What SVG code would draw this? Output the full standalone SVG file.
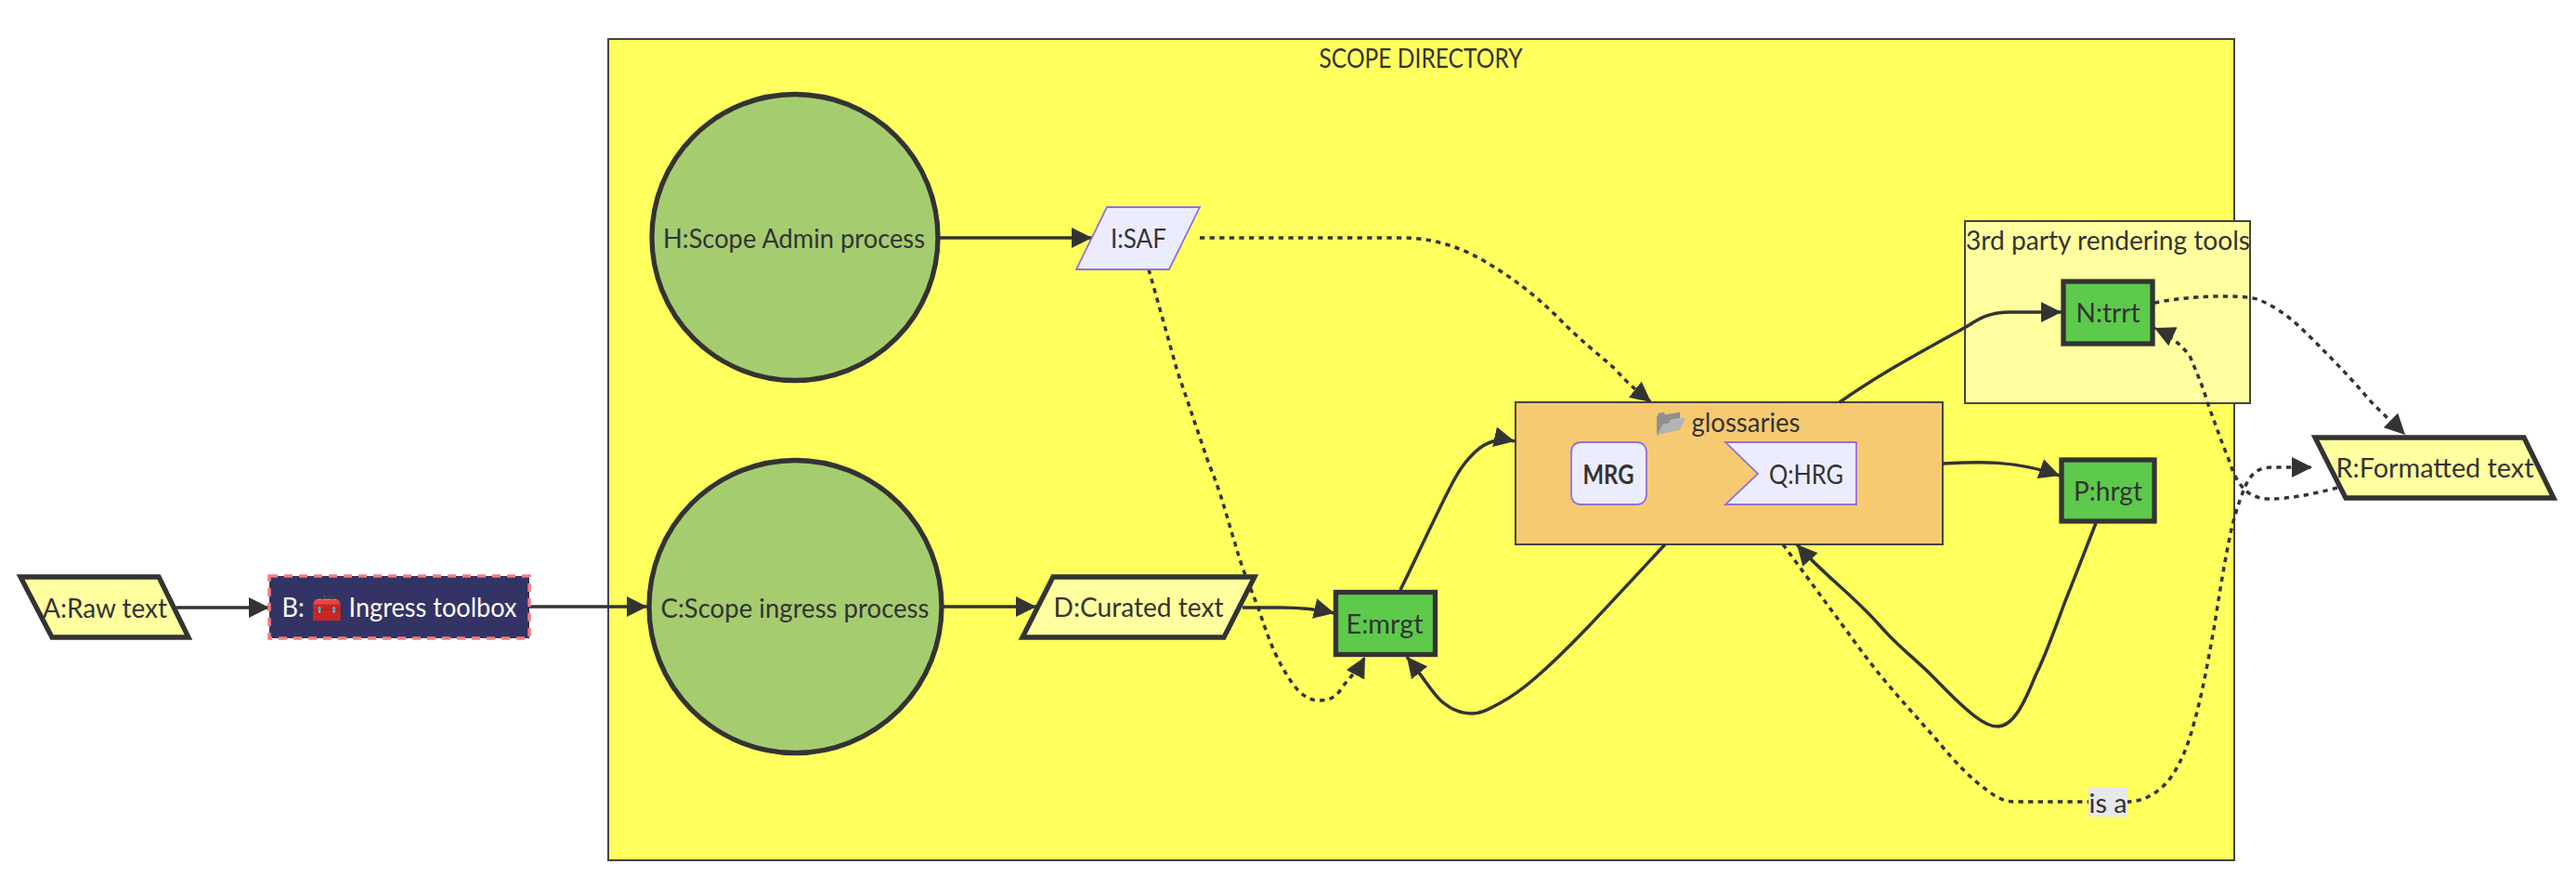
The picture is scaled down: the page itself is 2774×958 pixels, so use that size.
<svg xmlns="http://www.w3.org/2000/svg" width="2774" height="958" viewBox="0 0 2774 958">
<style>
text{font-family:"Lato","Liberation Sans",sans-serif;font-size:28px;fill:#333;text-anchor:middle;dominant-baseline:central}
.e{fill:none;stroke:#333;stroke-width:3.5}
.d{stroke-dasharray:5.3 5.3}
.big{fill:#ffff9f;stroke:#333;stroke-width:5.3}
.gr{fill:#5dca4c;stroke:#333;stroke-width:5.3}
.pl{fill:#ececff;stroke:#9370db;stroke-width:1.8}
.cl{stroke:#444;stroke-width:2}
.c{fill:#a6cc70;stroke:#333;stroke-width:5.3}
</style>
<defs><marker id="a" markerUnits="userSpaceOnUse" viewBox="0 0 20 20" refX="20" refY="10" markerWidth="22" markerHeight="22" orient="auto"><path d="M0 0L20 10L0 20z" fill="#333"/></marker></defs>
<g id="scope"><rect x="655" y="42" width="1751" height="884" fill="#ffff5e" stroke="#444" stroke-width="2"/><text x="1530" y="62" textLength="219" lengthAdjust="spacingAndGlyphs">SCOPE DIRECTORY</text></g>
<g id="third"><rect x="2116" y="238" width="307" height="196" fill="#ffff9f" class="cl"/><text x="2270" y="258" textLength="306" lengthAdjust="spacingAndGlyphs">3rd party rendering tools</text></g>
<g id="glossaries"><rect x="1632" y="433" width="460" height="153" fill="#f6ca71" class="cl"/><text x="1799" y="453" style="filter:grayscale(1) brightness(.8)" font-size="25">📂</text><text x="1880" y="454" textLength="117" lengthAdjust="spacingAndGlyphs">glossaries</text></g>
<g id="edges">
<path class="e" marker-end="url(#a)" d="M190 654H290"/>
<path class="e" marker-end="url(#a)" d="M570 653H697"/>
<path class="e" marker-end="url(#a)" d="M1014 653H1116"/>
<path class="e" marker-end="url(#a)" d="M1004 256H1176"/>
<path class="e" marker-end="url(#a)" d="M1338 654H1379C1400 654 1420 656 1437 660"/>
<path class="e" marker-end="url(#a)" d="M1508 635C1514 623 1516 619 1525 600C1534 581 1554 539 1564 520C1574 501 1581 494 1588 487C1595 480 1601 477 1608 475C1615 473 1622 473 1631 475"/>
<path class="e" marker-end="url(#a)" d="M1793 586C1765 616 1731 653 1708 677C1685 701 1668 717 1653 730C1638 743 1626 751 1615 757C1604 763 1595 768 1585 768C1575 768 1565 765 1555 757C1545 750 1534 731 1527 723C1520 715 1519 712 1515 707"/>
<path class="e" marker-end="url(#a)" d="M1981 433C2025 402 2070 378 2117 352C2130 344 2140 336 2165 336H2220"/>
<path class="e" marker-end="url(#a)" d="M2092 499C2130 497 2170 495 2218 512"/>
<path class="e" marker-end="url(#a)" d="M2257 563C2246 591 2235 620 2224 647C2213 676 2204 703 2192 727C2180 757 2168 782 2151 782C2138 782 2122 770 2086 733C2065 711 2045 697 2024 673C1993 638 1965 620 1935 586"/>
<path class="e d" marker-end="url(#a)" d="M1292 256H1511C1540 256 1570 265 1593 278C1625 296 1650 315 1676 340C1700 365 1720 380 1739 397C1755 415 1768 425 1778 433"/>
<path class="e d" marker-end="url(#a)" d="M1237 290C1247 325 1258 365 1268 400C1280 435 1290 465 1302 500C1315 530 1322 560 1330 585C1338 615 1348 635 1357 660C1368 695 1378 715 1390 733C1400 748 1410 754 1420 754C1432 754 1440 750 1445 740C1455 728 1463 720 1470 707"/>
<path class="e d" marker-end="url(#a)" d="M1920 586C1948 624 1976 662 2004 700C2032 738 2059 766 2086 797C2105 820 2122 838 2139 850C2149 858 2158 863 2170 863H2290C2310 863 2327 852 2339 835C2350 818 2357 800 2363 777C2372 745 2378 710 2384 677C2390 640 2396 600 2404 565C2408 550 2412 538 2416 528C2420 518 2426 503 2446 503H2490"/>
<path class="e d" marker-end="url(#a)" d="M2320 326C2345 321 2370 319 2392 319C2405 319 2418 319 2431 322C2455 332 2470 345 2487 362C2510 385 2530 405 2551 430C2565 445 2580 458 2590 468"/>
<path class="e d" marker-end="url(#a)" d="M2517 525C2490 532 2465 537 2444 537C2432 537 2424 533 2418 528C2410 520 2405 510 2401 497C2392 475 2385 455 2377 433C2372 415 2365 400 2358 383C2348 370 2335 360 2320 353"/>
</g>
<g id="A"><polygon class="big" points="22,621 171,621 203,686 56,686"/><text x="113" y="654" textLength="134" lengthAdjust="spacingAndGlyphs">A:Raw text</text></g>
<g id="B"><rect x="290" y="620" width="280" height="67" fill="#333366" stroke="#f47c7c" stroke-width="3.5" stroke-dasharray="9 7"/><text x="430" y="653" style="fill:#fff" textLength="253" lengthAdjust="spacingAndGlyphs">B: 🧰 Ingress toolbox</text></g>
<g id="C"><circle class="c" cx="856.500" cy="653" r="157.500"/><text x="856" y="654" textLength="289" lengthAdjust="spacingAndGlyphs">C:Scope ingress process</text></g>
<g id="D"><polygon class="big" points="1134,621 1351,621 1318,686 1101,686"/><text x="1226" y="653" textLength="183" lengthAdjust="spacingAndGlyphs">D:Curated text</text></g>
<g id="E"><rect class="gr" x="1438.500" y="637.500" width="107" height="67"/><text x="1491" y="671" textLength="83" lengthAdjust="spacingAndGlyphs">E:mrgt</text></g>
<g id="H"><circle class="c" cx="856" cy="255.500" r="154"/><text x="855" y="256" textLength="282" lengthAdjust="spacingAndGlyphs">H:Scope Admin process</text></g>
<g id="I"><polygon class="pl" points="1192,223 1292,223 1259,290 1159,290"/><text x="1226" y="256" textLength="60" lengthAdjust="spacingAndGlyphs">I:SAF</text></g>
<g id="MRG"><rect class="pl" x="1692" y="476" width="81" height="67" rx="10"/><text x="1732" y="510" font-weight="700" textLength="55" lengthAdjust="spacingAndGlyphs">MRG</text></g>
<g id="Q"><polygon class="pl" points="1858,476 1999,476 1999,543 1858,543 1893,510"/><text x="1945" y="510" textLength="80" lengthAdjust="spacingAndGlyphs">Q:HRG</text></g>
<g id="N"><rect class="gr" x="2222" y="303" width="96" height="67"/><text x="2270" y="336" textLength="69" lengthAdjust="spacingAndGlyphs">N:trrt</text></g>
<g id="P"><rect class="gr" x="2220" y="495" width="100" height="66"/><text x="2270" y="528" textLength="74" lengthAdjust="spacingAndGlyphs">P:hrgt</text></g>
<g id="R"><polygon class="big" points="2493,471 2718,471 2750,536 2526,536"/><text x="2622" y="503" textLength="213" lengthAdjust="spacingAndGlyphs">R:Formatted text</text></g>
<g id="label"><rect x="2249" y="848" width="42" height="31" fill="#e8e8e8"/><text x="2270" y="864" textLength="41" lengthAdjust="spacingAndGlyphs">is a</text></g>
</svg>
